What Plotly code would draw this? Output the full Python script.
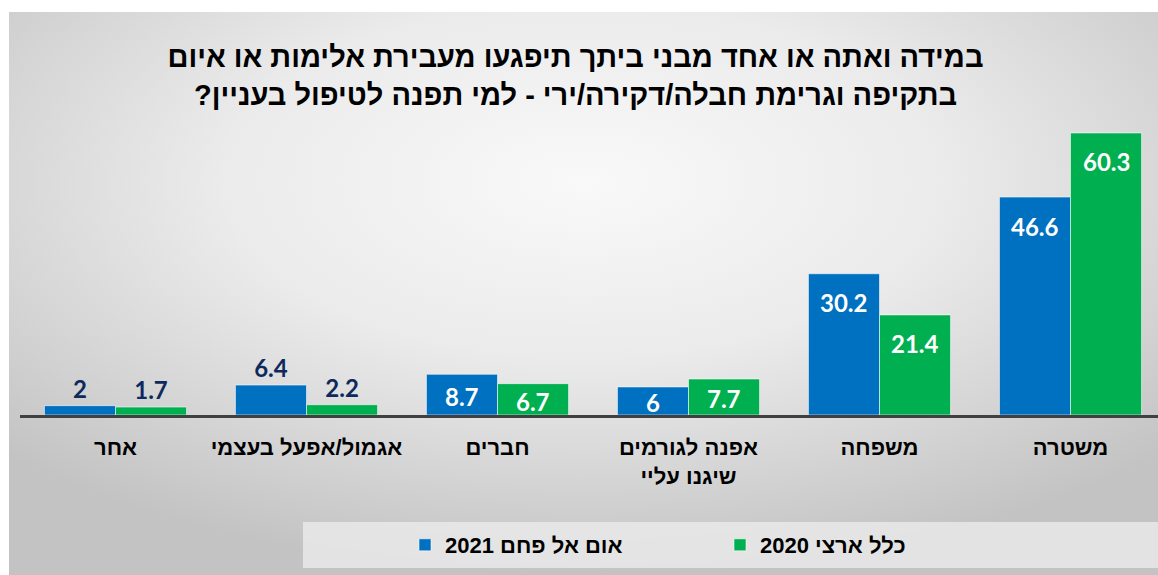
import base64
import plotly.graph_objects as go

# ---- data ----
categories = ["אחר", "אגמול/אפעל בעצמי", "חברים", "אפנה לגורמים<br>שיגנו עליי", "משפחה", "משטרה"]
series_names = ["אום אל פחם 2021", "כלל ארצי 2020"]
umm_2021 = [2, 6.4, 8.7, 6, 30.2, 46.6]
national_2020 = [1.7, 2.2, 6.7, 7.7, 21.4, 60.3]
title_lines = ["במידה ואתה או אחד מבני ביתך תיפגעו מעבירת אלימות או איום",
               "בתקיפה וגרימת חבלה/דקירה/ירי - למי תפנה לטיפול בעניין?"]

# ---- style ----
W, H = 1158, 575
ML, MR, MT, MB = 20, 0, 100, 160
PW, PH = W - ML - MR, H - MT - MB
PX_PER_UNIT = 4.677
BLUE, GREEN, NAVY = "#0070C0", "#00B050", "#0E2A5C"
HEB = "Liberation Sans, Arial, sans-serif"
NUM = "Lato, Liberation Sans, sans-serif"
inside_blue = [False, False, True, True, True, True]
inside_green = [False, False, True, True, True, True]
LABEL_SIZE = 24


def px(x):  # pixel -> paper x
    return (x - ML) / PW


def py(y):  # pixel -> paper y
    return (H - MB - y) / PH


svg = ('<svg xmlns="http://www.w3.org/2000/svg" width="1149" height="563" viewBox="0 0 1149 563" preserveAspectRatio="none">'
       '<defs><radialGradient id="g" cx="0.5" cy="0.3" r="0.7" fx="0.5" fy="0.3">'
       '<stop offset="0" stop-color="#f9f9f9"/><stop offset="0.45" stop-color="#ebebeb"/>'
       '<stop offset="1" stop-color="#c3c3c3"/></radialGradient></defs>'
       '<rect width="1149" height="563" fill="url(#g)"/></svg>')
bg_uri = "data:image/svg+xml;base64," + base64.b64encode(svg.encode()).decode()

fig = go.Figure()
annotations = []
half = (1 - 0.256) / 4
for k, (name, vals, color, inside) in enumerate([(series_names[0], umm_2021, BLUE, inside_blue),
                                                 (series_names[1], national_2020, GREEN, inside_green)]):
    fig.add_trace(go.Bar(
        name=name, x=categories, y=vals, marker_color=color,
        marker_line=dict(color="rgba(255,255,255,0.55)", width=1),
        text=["" if ins else f"{v:g}" for v, ins in zip(vals, inside)],
        textposition="outside", textangle=0, cliponaxis=False,
        outsidetextfont=dict(family=NUM, size=LABEL_SIZE, color=NAVY, weight="bold"),
    ))
    for i, (v, ins) in enumerate(zip(vals, inside)):
        if not ins:
            continue
        bar_px = v * PX_PER_UNIT
        annotations.append(dict(
            x=i + (-half if k == 0 else half), y=v, xref="x", yref="y",
            text=f"{v:g}", showarrow=False, yanchor="middle",
            yshift=-min(29, bar_px / 2 + 2),
            font=dict(family=NUM, size=LABEL_SIZE, color="white", weight="bold")))

fig.update_layout(
    width=W, height=H,
    margin=dict(l=ML, r=MR, t=MT, b=MB, autoexpand=False),
    paper_bgcolor="white", plot_bgcolor="rgba(0,0,0,0)",
    barmode="group", bargap=0.256, bargroupgap=0,
    title=dict(text="\u200f" + title_lines[0] + "<br>\u200f" + title_lines[1] + "\u200f",
               x=575.5 / W, xanchor="center", xref="container",
               y=1 - 67 / H, yanchor="middle", yref="container",
               font=dict(family=HEB, size=29, color="black", weight="bold")),
    xaxis=dict(range=[-0.5, -0.5 + PW / 191.0], showgrid=False, showline=True, linecolor="#404040",
               linewidth=3, ticks="outside", ticklen=11, tickcolor="rgba(0,0,0,0)",
               tickfont=dict(family=HEB, size=22, color="black", weight="bold"), fixedrange=True),
    yaxis=dict(range=[0, PH / PX_PER_UNIT], visible=False, fixedrange=True),
    showlegend=True,
    legend=dict(orientation="h", x=px(405), xanchor="left", y=py(545), yanchor="middle",
                bgcolor="rgba(0,0,0,0)", entrywidth=270, traceorder="normal",
                font=dict(family=HEB, size=22, color="black", weight="bold")),
    images=[dict(source=bg_uri, xref="paper", yref="paper", x=px(9), y=py(12),
                 sizex=px(W) - px(9), sizey=py(12) - py(H), xanchor="left", yanchor="top",
                 sizing="stretch", layer="below")],
    shapes=[dict(type="rect", xref="paper", yref="paper", x0=px(303), x1=px(W), y0=py(568), y1=py(522),
                 fillcolor="rgba(235,235,235,0.8)", line_width=0, layer="below")],
    annotations=annotations,
)

fig.write_html("out.html", config={"displayModeBar": False},
               post_script="document.body.style.margin='0';document.body.style.overflow='hidden';")
